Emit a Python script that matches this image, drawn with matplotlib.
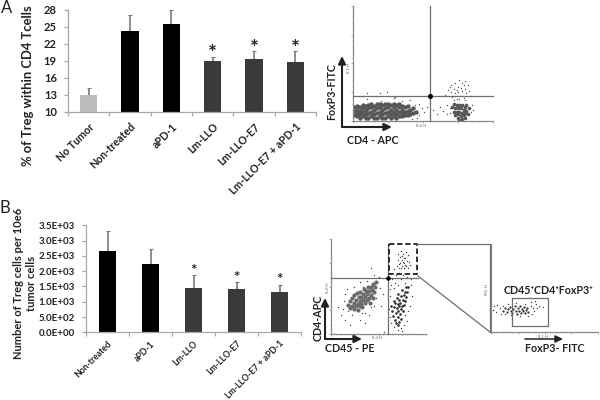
import matplotlib
matplotlib.use("Agg")
import numpy as np
import matplotlib.pyplot as plt

plt.rcParams["font.family"] = ["Lato", "DejaVu Sans"]

W, H = 600, 400
AXIS_GRAY = "#a8a8a8"
ERR_GRAY = "#7a7a7a"
DARK = "#3a3a3a"
BLACK = "#000000"
LIGHT = "#bdbdbd"
DOT = "#565656"
GATE = "#6e6e6e"

# panel A bars
cats_a = ["No Tumor", "Non-treated", "aPD-1", "Lm-LLO", "Lm-LLO-E7", "Lm-LLO-E7 + aPD-1"]
vals_a = [12.9, 24.2, 25.4, 19.0, 19.2, 18.8]
errs_a = [1.2, 2.9, 2.5, 0.7, 1.4, 1.9]
cols_a = [LIGHT, BLACK, BLACK, DARK, DARK, DARK]
stars_a = [3, 4, 5]
yticks_a = [10, 13, 16, 19, 22, 25, 28]

# panel B bars
cats_b = ["Non-treated", "aPD-1", "Lm-LLO", "Lm-LLO-E7", "Lm-LLO-E7 + aPD-1"]
vals_b = [2650, 2230, 1450, 1430, 1330]
errs_b = [670, 490, 420, 200, 220]
cols_b = [BLACK, BLACK, DARK, DARK, DARK]
stars_b = [2, 3, 4]
yticks_b = [0, 500, 1000, 1500, 2000, 2500, 3000, 3500]
yticklabels_b = ["0.0E+00", "5.0E+02", "1.0E+03", "1.5E+03", "2.0E+03", "2.5E+03", "3.0E+03", "3.5E+03"]

flow_a_dense = [
    (1, 5), (1, 9), (1, 12), (3, 4), (3, 7), (3, 10), (3, 13), (5, 3), (5, 6), (5, 9),
    (5, 12), (7, 4), (7, 8), (7, 11), (7, 14), (9, 3), (9, 6), (9, 10), (9, 13), (11, 3),
    (11, 7), (11, 11), (11, 14), (13, 4), (13, 8), (13, 12), (13, 15), (15, 3), (15, 6), (15, 10),
    (15, 13), (17, 3), (17, 7), (17, 11), (17, 15), (19, 4), (19, 8), (19, 12), (19, 15), (21, 3),
    (21, 6), (21, 10), (21, 14), (23, 3), (23, 7), (23, 11), (23, 15), (25, 4), (25, 8), (25, 12),
    (25, 15), (27, 3), (27, 6), (27, 10), (27, 14), (29, 4), (29, 8), (29, 12), (29, 15), (31, 3),
    (31, 6), (31, 10), (31, 14), (33, 4), (33, 8), (33, 12), (33, 15), (35, 4), (35, 7), (35, 10),
    (35, 13), (37, 5), (37, 8), (37, 12), (39, 5), (39, 9), (39, 13), (41, 6), (41, 10), (43, 7),
    (43, 11), (45, 8),
]
flow_a_pos = [
    (71, 12), (72, 8), (72, 15), (73, 5), (73, 11), (74, 8), (74, 14), (75, 3), (75, 6), (75, 11),
    (76, 1), (76, 8), (76, 14), (77, 4), (77, 11), (78, 2), (78, 7), (78, 14), (79, 5), (79, 10),
    (80, 3), (80, 7), (80, 12), (81, 9), (81, 14), (82, 6), (83, 11),
]
flow_a_sparse = [
    (10, 19), (20, 17), (30, 21), (10, 24), (19, 24), (24, 25), (29, 20), (35, 17), (41, 18), (47, 15),
    (44, 14), (47, 5), (46, 3), (42, 2), (49, 11), (51, 8), (53, 12), (55, 16), (57, 10), (60, 6),
    (62, 12), (64, 9), (67, 14), (69, 7), (66, 23), (68, 27), (69, 30), (70, 25), (71, 21), (72, 28),
    (73, 33), (73, 24), (74, 19), (75, 30), (75, 25), (76, 36), (77, 29), (77, 22), (78, 33), (78, 26),
    (79, 20), (80, 28), (80, 35), (81, 24), (82, 31), (83, 26), (84, 22), (85, 14), (84, 8), (86, 10),
    (69, 11), (67, 6), (72, 18), (76, 19), (80, 18), (70, 31), (74, 27), (79, 31),
]
flow_b_dense = [
    (64, 24), (65, 19), (66, 28), (67, 15), (67, 33), (68, 22), (69, 27), (69, 38), (70, 18), (70, 32),
    (71, 24), (71, 42), (72, 13), (72, 29), (72, 36), (73, 21), (73, 33), (74, 26), (74, 40), (75, 30),
    (75, 46), (76, 36), (76, 24), (77, 41), (77, 31), (78, 44), (78, 35), (79, 49), (79, 39), (80, 44),
    (81, 50), (68, 12), (70, 10), (74, 16), (66, 35), (63, 30),
]
flow_b_neg = [
    (18, 31), (20, 27), (20, 35), (22, 30), (22, 38), (24, 26), (24, 33), (24, 41), (26, 29), (26, 36),
    (27, 43), (28, 25), (28, 32), (29, 39), (30, 29), (30, 35), (31, 44), (32, 32), (32, 39), (33, 28),
    (34, 36), (34, 42), (35, 47), (36, 33), (36, 39), (37, 45), (38, 36), (38, 42), (39, 49), (40, 38),
    (40, 45), (41, 33), (42, 41), (42, 50), (43, 46), (44, 38), (44, 53), (45, 44), (46, 49), (47, 55),
]
flow_b_sparse = [
    (7, 28), (10, 20), (13, 26), (15, 15), (18, 24), (20, 10), (22, 20), (27, 25), (30, 15), (33, 22),
    (36, 22), (42, 28), (47, 38), (50, 60), (45, 62), (38, 56), (42, 70), (34, 50), (52, 48), (55, 42),
    (53, 30), (56, 2), (14, 35), (15, 42), (17, 47), (24, 50), (30, 55), (40, 20), (36, 12), (45, 30),
    (62, 40), (62, 47), (63, 52), (64, 58), (66, 48), (67, 54), (68, 62), (71, 52), (74, 58), (76, 62),
    (78, 54), (80, 60), (82, 64), (84, 52), (85, 40), (83, 30), (81, 24), (80, 14), (77, 9), (74, 6),
    (70, 4), (66, 7), (63, 12), (62, 18), (61, 26), (75, 3), (78, 20), (84, 58), (66, 68), (72, 64),
    (69, 72), (70, 78), (71, 84), (72, 69), (73, 75), (73, 81), (74, 87), (75, 72), (75, 78), (76, 84),
    (77, 69), (77, 75), (78, 80), (79, 86), (79, 72), (80, 77), (81, 83), (81, 70), (82, 76), (83, 73),
    (72, 74), (74, 70), (76, 76), (78, 73), (75, 82), (77, 80),
]
flow_c_dense = [
    (11, 24), (13, 27), (15, 23), (16, 26), (18, 28), (19, 24), (20, 22), (21, 26), (22, 29), (23, 24),
    (24, 21), (25, 27), (26, 24), (27, 29), (28, 22), (29, 26), (30, 24), (31, 28), (32, 22), (33, 25),
    (34, 27), (35, 23),
]
flow_c_sparse = [
    (2, 25), (3, 29), (5, 23), (6, 31), (8, 27), (9, 21), (11, 30), (13, 20), (16, 32), (19, 19),
    (23, 33), (27, 18), (32, 32), (35, 18), (37, 30), (38, 21), (39, 27), (40, 24), (42, 32), (43, 27),
    (45, 29), (37, 34), (41, 35), (48.6, 28),
]


def px_axes(fig, left, top, right, bottom):
    return fig.add_axes([left / W, 1 - bottom / H, (right - left) / W, (bottom - top) / H])


def bar_panel(ax, cats, vals, errs, cols, stars, star_pad, star_size, width, fs_x, fs_y, pad_x):
    xs = np.arange(len(cats))
    ax.bar(xs, vals, width, color=cols, zorder=2)
    ax.errorbar(xs, vals, yerr=[np.zeros(len(errs)), errs], fmt="none", ecolor=ERR_GRAY,
                elinewidth=1.2, capsize=1.5, capthick=0.8, zorder=1)
    ax.set_xlim(-0.5, len(cats) - 0.5)
    ax.set_xticks(xs)
    ax.set_xticks(np.arange(len(cats) + 1) - 0.5, minor=True)
    ax.tick_params(axis="x", which="major", length=0, pad=pad_x)
    ax.tick_params(axis="x", which="minor", length=3, color=AXIS_GRAY, width=0.9)
    ax.tick_params(axis="y", length=3, color=AXIS_GRAY, width=0.9, pad=5, labelsize=fs_y)
    ax.set_xticklabels(cats, rotation=45, ha="right", rotation_mode="anchor",
                       fontsize=fs_x, fontweight="bold", color="#222222")
    for side in ["top", "right"]:
        ax.spines[side].set_visible(False)
    for side in ["left", "bottom"]:
        ax.spines[side].set_color(AXIS_GRAY)
        ax.spines[side].set_linewidth(0.9)
    for i in stars:
        ax.text(i, vals[i] + errs[i] + star_pad, "*", ha="center", va="center",
                fontsize=star_size, fontweight="bold", color="#222222", zorder=3)


def flow_panel(fig, box, xlabel, ylabel, clouds, xlab_at, ylab_at):
    ax = px_axes(fig, *box)
    ax.set_xlim(0, 100)
    ax.set_ylim(0, 100)
    ax.patch.set_alpha(0)
    for pts, size, col in clouds:
        ax.scatter(*zip(*pts), s=size, c=col, linewidths=0, zorder=2)
    for side in ["top", "right"]:
        ax.spines[side].set_visible(False)
    for side in ["left", "bottom"]:
        ax.spines[side].set_color("#8a8a8a")
        ax.spines[side].set_linewidth(0.9)
    ax.set_xticks(np.arange(0, 101, 25))
    ax.set_yticks(np.arange(0, 101, 25))
    ax.set_xticks(np.arange(0, 101, 5), minor=True)
    ax.set_yticks(np.arange(0, 101, 5), minor=True)
    ax.tick_params(which="major", length=1.5, width=0.5, color="#8a8a8a", labelbottom=False, labelleft=False)
    ax.tick_params(which="minor", length=1, width=0.4, color="#8a8a8a")
    ax.text(xlab_at[0], xlab_at[1], xlabel, fontsize=3, color="#666666", ha="center", va="center",
            transform=ax.transAxes)
    ax.text(ylab_at[0], ylab_at[1], ylabel, fontsize=3, color="#666666", ha="center", va="center",
            rotation=90, transform=ax.transAxes)
    return ax


fig = plt.figure(figsize=(6, 4), dpi=100)

ax_a = px_axes(fig, 68, 9.5, 316, 111.5)
bar_panel(ax_a, cats_a, vals_a, errs_a, cols_a, stars_a, 0.4, 15, 0.42, 7.7, 8, 7)
ax_a.set_ylim(10, 28)
ax_a.set_yticks(yticks_a)
ax_a.set_yticklabels([str(t) for t in yticks_a], fontweight="bold", color="#222222")

ax_b = px_axes(fig, 86, 225.3, 301, 332.3)
bar_panel(ax_b, cats_b, vals_b, errs_b, cols_b, stars_b, 150, 11, 0.39, 6.2, 7, 5)
ax_b.set_ylim(0, 3500)
ax_b.set_yticks(yticks_b)
ax_b.set_yticklabels(yticklabels_b, fontweight="bold", color="#222222")

flow_panel(fig, (353, 6, 493, 121), "FL4-H", "FL1-H",
           [(flow_a_dense, 10, DOT), (flow_a_pos, 7, DOT), (flow_a_sparse, 1.0, DOT)],
           (0.49, -0.043), (-0.03, 0.47))
flow_panel(fig, (331, 239, 426, 334), "FL2-H", "FL4-H",
           [(flow_b_neg, 9, "#6a6a6a"), (flow_b_dense, 3.5, "#2e2e2e"), (flow_b_sparse, 1.0, "#404040")],
           (0.49, -0.045), (-0.04, 0.49))
flow_panel(fig, (491, 244, 598, 332), "FL1-H", "FSC-H",
           [(flow_c_dense, 2.6, "#333333"), (flow_c_sparse, 1.0, "#444444")],
           (0.49, -0.057), (-0.04, 0.49))

# overlay in pixel coordinates for gates, arrows and labels
ov = fig.add_axes([0, 0, 1, 1])
ov.set_xlim(0, W)
ov.set_ylim(H, 0)
ov.axis("off")
ov.patch.set_alpha(0)


def seg(xs, ys, **kw):
    kw.setdefault("color", GATE)
    kw.setdefault("lw", 0.9)
    ov.plot(xs, ys, **kw)


def arrow(x0, y0, x1, y1, lw=1.5):
    ov.annotate("", xy=(x1, y1), xytext=(x0, y0),
                arrowprops=dict(arrowstyle="-|>,head_width=0.22,head_length=0.45",
                                color="#222222", lw=lw, shrinkA=0, shrinkB=0))


# panel A gates
seg([430, 430], [6, 121])
seg([353, 493], [96, 96])
ov.plot([430], [96], "o", color="black", ms=2.6)
arrow(342, 127, 342, 56)
arrow(342, 127, 392, 127)

# panel B gates
seg([388, 388], [244, 334])
seg([331, 418], [277.7, 277.7])
ov.plot([388], [277.7], "o", color="black", ms=2.2)
seg([389, 417, 417, 389, 389], [244, 244, 274, 274, 244], color="#222222", lw=1.3, ls=(0, (3, 1.5)))
seg([417, 490, 490], [244, 244, 332])
seg([418, 490], [276, 332])
seg([512, 548, 548, 512, 512], [298, 298, 326, 326, 298])
arrow(325, 339, 325, 298)
arrow(325, 339, 362, 339)
arrow(525, 339, 563, 339, lw=1.1)

TXT = "#222222"
ov.text(7, 8, "A", fontsize=12, ha="center", va="center", color=TXT)
ov.text(5, 208, "B", fontsize=12, ha="center", va="center", color=TXT)
ov.text(28, 86, "% of Treg within CD4 Tcells", rotation=90, fontsize=9.4, fontweight="bold",
        ha="center", va="center", color=TXT)
ov.text(25, 283, "Number of Treg cells per 10e6\ntumor cells", rotation=90, fontsize=8, fontweight="bold",
        ha="center", va="center", color=TXT, linespacing=1.15, multialignment="center")
ov.text(332, 92, "FoxP3-FITC", rotation=90, fontsize=7.7, fontweight="bold", ha="center", va="center", color=TXT)
ov.text(373, 141, "CD4 - APC", fontsize=7.7, fontweight="bold", ha="center", va="center", color=TXT)
ov.text(318, 318, "CD4-APC", rotation=90, fontsize=7.7, fontweight="bold", ha="center", va="center", color=TXT)
ov.text(350, 348, "CD45 - PE", fontsize=7.7, fontweight="bold", ha="center", va="center", color=TXT)
ov.text(555, 348, "FoxP3- FITC", fontsize=7.7, fontweight="bold", ha="center", va="center", color=TXT)
ov.text(548, 291, "CD45⁺CD4⁺FoxP3⁺", fontsize=7.7, fontweight="bold", ha="center", va="center", color=TXT)

fig.savefig("out.png", dpi=100)
